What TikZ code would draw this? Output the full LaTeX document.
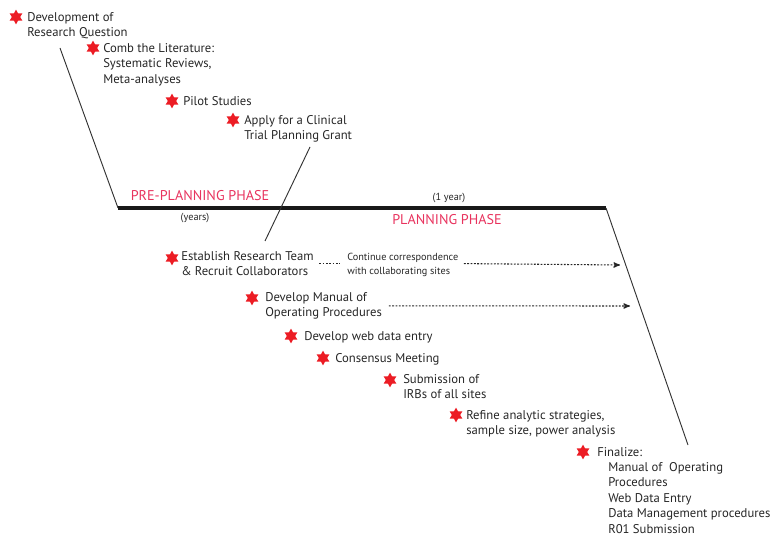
\documentclass[tikz,border=0pt]{standalone}
\usepackage{fontspec}
\setmainfont{PT Sans}
\usetikzlibrary{arrows}
\usetikzlibrary{shapes.geometric,positioning}
\definecolor{phasered}{HTML}{E8335E}
\definecolor{starred}{HTML}{EC1C24}
\tikzset{milestone/.style={star, star points=6, star point ratio=1.75, fill=starred, draw=none, inner sep=0pt, minimum size=11pt}}
\tikzset{itemtext/.style={anchor=north west, align=left, inner sep=0pt, text=black!85, font=\fontsize{9.5}{11.6}\selectfont}}
\tikzset{phasetext/.style={text=phasered, inner sep=0pt, font=\fontsize{10.6}{13}\selectfont}}
\tikzset{notetext/.style={align=left, inner sep=0pt, text=black!85, font=\fontsize{7.7}{10.5}\selectfont}}
\tikzset{track/.style={black!80, line width=0.7pt}}
\tikzset{followup/.style={black!85, thick, dash pattern=on 1.4pt off 1.1pt}}

\begin{document}
\begin{tikzpicture}[x=0.75pt, y=-0.75pt]
\useasboundingbox (0,0) rectangle (775,542);
% time line and phase slopes
\coordinate (preTop) at (60,48);
\coordinate (preEnd) at (118,208);
\coordinate (planEnd) at (606,208);
\coordinate (planBottom) at (688,445);
\coordinate (grantTop) at (310,147);
\coordinate (grantBottom) at (265,241);
\draw[track] (preTop) -- (preEnd);
\draw[black!90, line width=2.3pt] (preEnd) -- (planEnd);
\draw[track] (planEnd) -- (planBottom);
\draw[track] (grantTop) -- (grantBottom);
\node[phasetext] (prePhase) at (200,196) {PRE-PLANNING PHASE};
\node[notetext] (preYears) at (195,218) {(years)};
\node[notetext] (planYear) at (449,198) {(1 year)};
\node[phasetext] (planPhase) at (447,220) {PLANNING PHASE};
% milestones
\foreach \sx/\sy [count=\i] in {16/17, 93/48, 172/101, 233/120, 172/258, 252/298, 291/336, 323/358, 390/380, 456/415, 583/452}
  \node[milestone] (star\i) at (\sx,\sy) {};
\node[itemtext] (question) at (27,12) {Development of\\Research Question};
\node[itemtext] (literature) at (103,43) {Comb the Literature:\\Systematic Reviews,\\Meta-analyses};
\node[itemtext] (pilot) at (183,96) {Pilot Studies};
\node[itemtext] (grant) at (244,115) {Apply for a Clinical\\Trial Planning Grant};
\node[itemtext] (team) at (181,251) {Establish Research Team\\\& Recruit Collaborators};
\node[notetext, anchor=north west] (correspond) at (347,253) {Continue correspondence\\with collaborating sites};
\node[itemtext] (manual) at (265,292) {Develop Manual of\\Operating Procedures};
\node[itemtext] (webentry) at (304,331) {Develop web data entry};
\node[itemtext] (consensus) at (335,353) {Consensus Meeting};
\node[itemtext] (irb) at (403,374) {Submission of\\IRBs of all sites};
\node[itemtext] (analytic) at (466,410) {Refine analytic strategies,\\sample size, power analysis};
\node[itemtext] (finalize) at (597,447) {Finalize:};
\node[itemtext] (final) at (608,462) {Manual of~ Operating\\Procedures\\Web Data Entry\\Data Management procedures\\R01 Submission};
% ongoing work
\coordinate (teamArrow) at (620,265);
\coordinate (manualArrow) at (630,306);
\draw[followup, shorten <=4pt, shorten >=5pt] (team.east) -- (team.east -| correspond.west);
\draw[followup, ->, >=stealth', shorten <=4pt] (team.east -| correspond.east) -- (teamArrow);
\draw[followup, ->, >=stealth', shorten <=5pt] (manual.east) -- (manualArrow);
\end{tikzpicture}
\end{document}
